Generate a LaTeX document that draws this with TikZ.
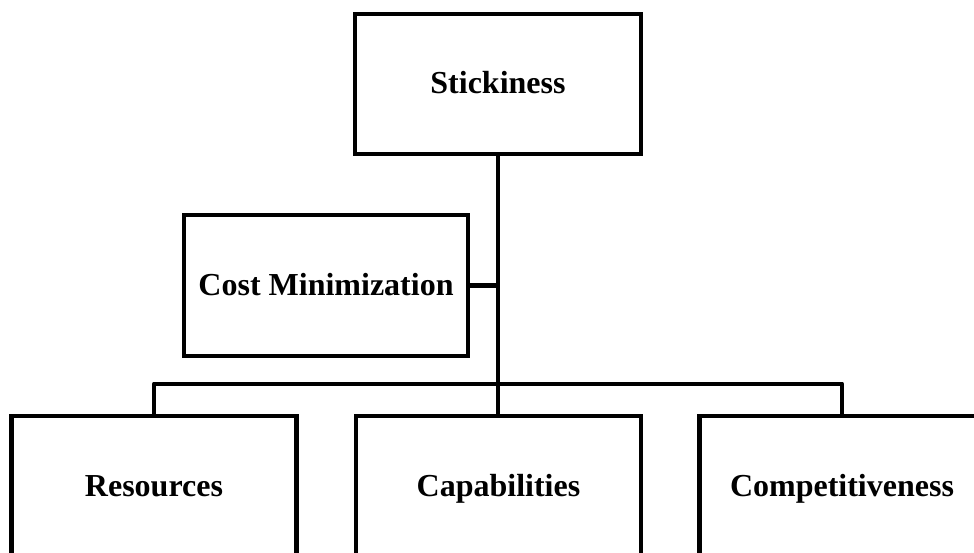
\documentclass[tikz,border=0pt]{standalone}
\usepackage{fontspec}
\setmainfont{Liberation Serif}
\begin{document}
\begin{tikzpicture}[x=1pt,y=-1pt,
  box/.style={draw=black,line width=4.5pt,fill=white,rectangle,
    minimum width=285pt,minimum height=141pt,inner sep=0pt,
    text height=26pt,text depth=6pt,
    font=\fontsize{32}{36}\selectfont\bfseries},
  link/.style={draw=black,line width=4.5pt,line join=round}]
  \useasboundingbox (0,0) rectangle (974,553);
  \clip (0,0) rectangle (974,553);
  \fill[white] (0,0) rectangle (974,553);

  % top of the hierarchy and its side box
  \node[box,minimum width=286pt,minimum height=140pt] (stick) at (498,84) {Stickiness};
  \node[box,minimum width=284pt] (cost) at (326,285.5) {Cost Minimization};

  % lower row
  \node[box] (res)  at (154,486.5) {Resources};
  \node[box] (cap)  at (498.5,486.5) {Capabilities};
  \node[box] (comp) at (842,486.5) {Competitiveness};

  % connectors
  \draw[link] (stick.south) -- (stick.south |- cap.north);
  \draw[link] (cost.east) -- (cost.east -| stick.south);
  \draw[link] (res.north) -- ++(0,-30) -| (comp.north);
\end{tikzpicture}
\end{document}
